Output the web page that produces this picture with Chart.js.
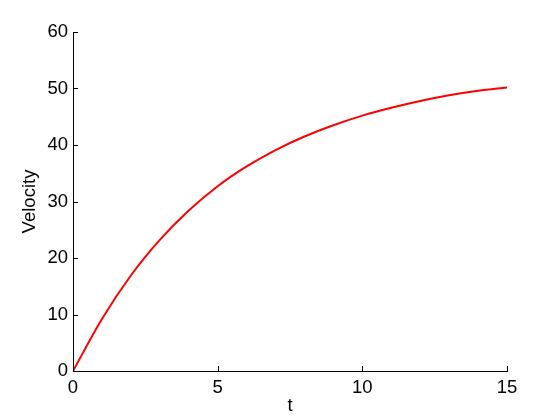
<!DOCTYPE html>
<html>
<head>
<meta charset="utf-8">
<script src="https://cdn.jsdelivr.net/npm/chart.js@4/dist/chart.umd.min.js"></script>
<style>
    html, body { margin: 0; padding: 0; background: #fff; }
    #wrap { width: 560px; height: 420px; position: relative; }
</style>
</head>
<body>
<div id="wrap"><canvas id="cvs" width="560" height="420"></canvas></div>
<script>
'use strict';

// values
const tValues = [0, 1, 2, 3, 4, 5, 6, 7, 8, 9, 10, 11, 12, 13, 14, 15];
const velocity = [0, 9.2, 16.9, 23.2, 28.4, 32.7, 36.2, 39.1, 41.5, 43.5, 45.2, 46.6, 47.8, 48.8, 49.6, 50.2];

const xTicks = [0, 5, 10, 15];
const yTicks = [0, 10, 20, 30, 40, 50, 60];

const FONT = 'Liberation Sans, Arial, Helvetica, sans-serif';
const FSIZE = 18.5;

// matlab style: short tick marks pointing into the plot
const inwardTicks = {
    id: 'inwardTicks',
    afterDatasetsDraw(chart) {
        const ctx = chart.ctx;
        const x = chart.scales.x, y = chart.scales.y;
        const len = 5;
        ctx.save();
        ctx.strokeStyle = '#000';
        ctx.lineWidth = 1;
        ctx.beginPath();
        xTicks.forEach((v) => {
            const px = Math.round(x.getPixelForValue(v)) + 0.5;
            ctx.moveTo(px, y.bottom);
            ctx.lineTo(px, y.bottom - len);
        });
        yTicks.forEach((v) => {
            const py = Math.round(y.getPixelForValue(v)) + 0.5;
            ctx.moveTo(x.left, py);
            ctx.lineTo(x.left + len, py);
        });
        ctx.stroke();
        ctx.restore();
    }
};

const points = tValues.map((t, i) => ({ x: t, y: velocity[i] }));

new Chart(document.getElementById('cvs'), {
    type: 'line',
    data: {
        datasets: [{
            data: points,
            borderColor: '#ff0000',
            borderWidth: 2,
            pointRadius: 0,
            fill: false,
            cubicInterpolationMode: 'monotone'
        }]
    },
    options: {
        responsive: false,
        animation: false,
        devicePixelRatio: 1,
        layout: { padding: { top: 32, right: 53, left: 0, bottom: 0 } },
        plugins: {
            legend: { display: false },
            tooltip: { enabled: false }
        },
        scales: {
            x: {
                type: 'linear',
                min: 0,
                max: 15,
                afterBuildTicks: (s) => { s.ticks = xTicks.map((v) => ({ value: v })); },
                afterFit: (s) => { s.height = 49; },
                grid: { display: false, drawTicks: false },
                border: { display: true, color: '#000', width: 1 },
                ticks: {
                    color: '#000',
                    padding: 6,
                    maxRotation: 0,
                    font: { family: FONT, size: FSIZE }
                },
                title: {
                    display: true,
                    text: 't',
                    color: '#000',
                    padding: { top: 0, bottom: 3 },
                    font: { family: FONT, size: FSIZE }
                }
            },
            y: {
                min: 0,
                max: 60,
                afterBuildTicks: (s) => { s.ticks = yTicks.map((v) => ({ value: v })); },
                afterFit: (s) => { s.width = 73; },
                grid: { display: false, drawTicks: false },
                border: { display: true, color: '#000', width: 1 },
                ticks: {
                    color: '#000',
                    padding: 5,
                    font: { family: FONT, size: FSIZE }
                },
                title: {
                    display: true,
                    text: 'Velocity',
                    color: '#000',
                    padding: { top: 19, bottom: 0 },
                    font: { family: FONT, size: FSIZE }
                }
            }
        }
    },
    plugins: [inwardTicks]
});
</script>
</body>
</html>
